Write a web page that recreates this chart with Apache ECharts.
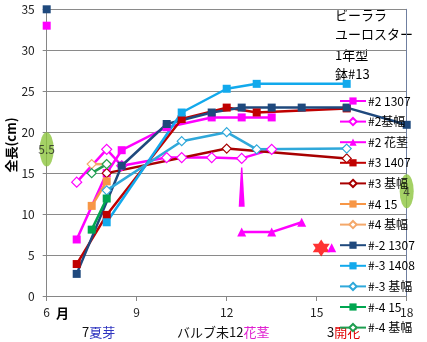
<!DOCTYPE html>
<html><head><meta charset="utf-8">
<script src="https://cdn.jsdelivr.net/npm/echarts@6/dist/echarts.min.js"></script>
<style>html,body{margin:0;padding:0;background:#fff}#c{width:427px;height:342px}</style>
</head><body><div id="c"></div>
<script>
// ---- data ----
const xTicks = [6, 9, 12, 15, 18];
const yTicks = [0, 5, 10, 15, 20, 25, 30, 35];
const legendNames = ['#2 1307','#2基幅','#2 花茎','#3 1407','#3 基幅','#4 15','#4 基幅','#-2 1307','#-3 1408','#-3 基幅','#-4 15','#-4 基幅'];
const s2_1307    = [[6,33],[6.5,'-'],[7,6.9],[8,15.0],[8.5,17.8],[10,20.6],[11.5,21.8],[12.5,21.8],[13.5,21.8]];
const s2_kihaba  = [[7,13.9],[8,17.9],[8.5,15.9],[10,16.9],[10.5,16.9],[11.5,16.9],[12.5,16.8],[13.5,17.9]];
const s2_kakei   = [[12.5,7.8],[13.5,7.8],[14.5,9.0],[15,'-'],[15.5,5.9]];
const s2_spike   = [[12.5,15.7,10.9]];
const s3_1407    = [[7,3.9],[8,9.9],[10.5,21.6],[12,23.0],[13,22.4],[16,22.9]];
const s3_kihaba  = [[8,15.0],[12,18.0],[16,16.8]];
const s4_15      = [[7.5,11.0],[8,14.0]];
const s4_kihaba  = [[7.5,16.1],[8,16.1]];
const sm2_1307   = [[6,35],[6.5,'-'],[7,2.7],[8.5,15.9],[10,21.0],[11.5,22.4],[12.5,23.0],[13.5,23.0],[14.5,23.0],[16,23.0],[18,20.9]];
const sm3_1408   = [[8,9.0],[10.5,22.4],[12,25.3],[13,25.9],[16,25.9]];
const sm3_kihaba = [[8,12.9],[10.5,18.9],[12,20.0],[13,17.9],[16,18.0]];
const sm4_15     = [[7.5,8.1],[8,11.9]];
const sm4_kihaba = [[7.5,15.0],[8,16.1]];
const ellipsePts = [[6,17.9],[18,12.8]];
const ellipseLabels = ['5.5','4'];
const starPts = [[15.15,5.85]];
const titleLines = ['ビーララ','ユーロスター','1年型','鉢#13'];

// ---- chart ----
const FONT = '"Noto Sans CJK JP","Noto Sans",sans-serif';
const chart = echarts.init(document.getElementById('c'));

function ls(name, data, color, symbol, size, hollow) {
  return {
    type: 'line', name, data, symbol, symbolSize: size, showSymbol: true,
    connectNulls: false, clip: false, animation: false,
    lineStyle: { width: 2.5, color },
    itemStyle: hollow ? { color: '#fff', borderColor: color, borderWidth: 1.2 }
                      : { color, borderColor: color, borderWidth: 0 },
    emphasis: { disabled: true }
  };
}
const C = {
  mag: '#FF00FF', red: '#C00000', red2: '#A80000', org: '#F79646', org2: '#F4A86A',
  navy: '#1F497D', sky: '#12A9EC', sky2: '#2FA8DA', grn: '#00A650', grn2: '#1E9E50'
};
const series = [
  ls(legendNames[0], s2_1307, C.mag, 'rect', 8),
  ls(legendNames[1], s2_kihaba, C.mag, 'diamond', 10, true),
  ls(legendNames[2], s2_kakei, C.mag, 'triangle', 9),
  ls(legendNames[3], s3_1407, C.red, 'rect', 8),
  ls(legendNames[4], s3_kihaba, C.red2, 'diamond', 9, true),
  ls(legendNames[5], s4_15, C.org, 'rect', 8),
  ls(legendNames[6], s4_kihaba, C.org2, 'diamond', 9, true),
  ls(legendNames[7], sm2_1307, C.navy, 'rect', 8),
  ls(legendNames[8], sm3_1408, C.sky, 'rect', 8),
  ls(legendNames[9], sm3_kihaba, C.sky2, 'diamond', 9, true),
  ls(legendNames[10], sm4_15, C.grn, 'rect', 8),
  ls(legendNames[11], sm4_kihaba, C.grn2, 'diamond', 9, true),
  {
    type: 'custom', name: 'spike', data: s2_spike, clip: false, animation: false,
    encode: { x: 0, y: [1, 2] },
    renderItem(params, api) {
      const x = api.value(0);
      const p1 = api.coord([x, api.value(1)]);
      const p2 = api.coord([x, api.value(2)]);
      return { type: 'polygon', shape: { points: [[p1[0]-0.7,p1[1]],[p1[0]+0.7,p1[1]],[p2[0]+3,p2[1]],[p2[0]-3,p2[1]]] },
               style: { fill: C.mag } };
    }
  },
  {
    type: 'scatter', name: 'ellipse', data: ellipsePts, clip: false, animation: false,
    symbol: 'circle', symbolSize: [14, 34], itemStyle: { color: '#8DC63F' },
    label: { show: true, position: 'inside', color: '#222', fontSize: 12, fontFamily: FONT,
             formatter: p => ellipseLabels[p.dataIndex] },
    emphasis: { disabled: true }
  },
  {
    type: 'scatter', name: 'star', data: starPts, clip: false, animation: false,
    symbol: 'path://M0,-10 L2.89,-5 L8.66,-5 L5.77,0 L8.66,5 L2.89,5 L0,10 L-2.89,5 L-8.66,5 L-5.77,0 L-8.66,-5 L-2.89,-5 Z',
    symbolSize: 17, itemStyle: { color: '#FF0000' }, emphasis: { disabled: true }
  }
];

function txt(x, y, text, extra) {
  return Object.assign({ type: 'text', x, y, silent: true,
    style: Object.assign({ text, font: '13px ' + FONT, fill: '#000',
      textAlign: 'left', align: 'left', textVerticalAlign: 'middle', verticalAlign: 'middle' }, extra || {}) });
}
const graphics = [
  txt(335, 15, titleLines[0]), txt(335, 34, titleLines[1]), txt(335, 55, titleLines[2]), txt(335, 74, titleLines[3]),
  Object.assign(txt(11.5, 145, '全長(cm)', { font: 'bold 13px ' + FONT, textAlign: 'center', align: 'center' }), { rotation: Math.PI / 2 }),
  txt(62.5, 313, '月', { font: 'bold 13px ' + FONT, textAlign: 'center', align: 'center' }),
  txt(82, 332, '{k|7}{b|夏芽}', { rich: { k: { fill: '#111', font: '13px ' + FONT }, b: { fill: '#2F35C0', font: '13px ' + FONT } } }),
  txt(177, 332, '{k|バルブ未12}{b|花茎}', { rich: { k: { fill: '#111', font: '13px ' + FONT }, b: { fill: '#E020D0', font: '13px ' + FONT } } }),
  txt(327, 332, '{k|3}{b|開花}', { rich: { k: { fill: '#111', font: '13px ' + FONT }, b: { fill: '#E00000', font: '13px ' + FONT } } })
];

chart.setOption({
  animation: false,
  backgroundColor: '#fff',
  textStyle: { fontFamily: FONT },
  grid: { left: 46.7, right: 20.3, top: 9.3, bottom: 46, containLabel: false },
  xAxis: {
    type: 'value', min: xTicks[0], max: xTicks[xTicks.length-1], interval: 3,
    axisLine: { show: true, onZero: false, lineStyle: { color: '#868686', width: 1 } },
    axisTick: { show: true, length: 5, lineStyle: { color: '#868686' } },
    axisLabel: { color: '#222', fontSize: 12, margin: 10, fontFamily: FONT },
    splitLine: { show: false }
  },
  yAxis: [{
    type: 'value', min: yTicks[0], max: yTicks[yTicks.length-1], interval: 5,
    axisLine: { show: true, lineStyle: { color: '#868686', width: 1 } },
    axisTick: { show: true, length: 4, lineStyle: { color: '#868686' } },
    axisLabel: { color: '#222', fontSize: 12, margin: 12, fontFamily: FONT },
    splitLine: { show: true, lineStyle: { color: '#8A8A8A', width: 1 } }
  }, {
    type: 'value', position: 'right', min: yTicks[0], max: yTicks[yTicks.length-1], interval: 5,
    axisLine: { show: true, lineStyle: { color: '#6F7FA0', width: 1 } },
    axisTick: { show: false }, axisLabel: { show: false }, splitLine: { show: false }
  }],
  legend: {
    data: legendNames, orient: 'vertical', left: 339, top: 95,
    itemWidth: 26, itemHeight: 9, itemGap: 8.6, padding: 0,
    textStyle: { fontSize: 12, color: '#000', fontFamily: FONT, padding: [0,0,0,-3] },
    selectedMode: false
  },
  series,
  graphic: graphics
});
</script></body></html>
